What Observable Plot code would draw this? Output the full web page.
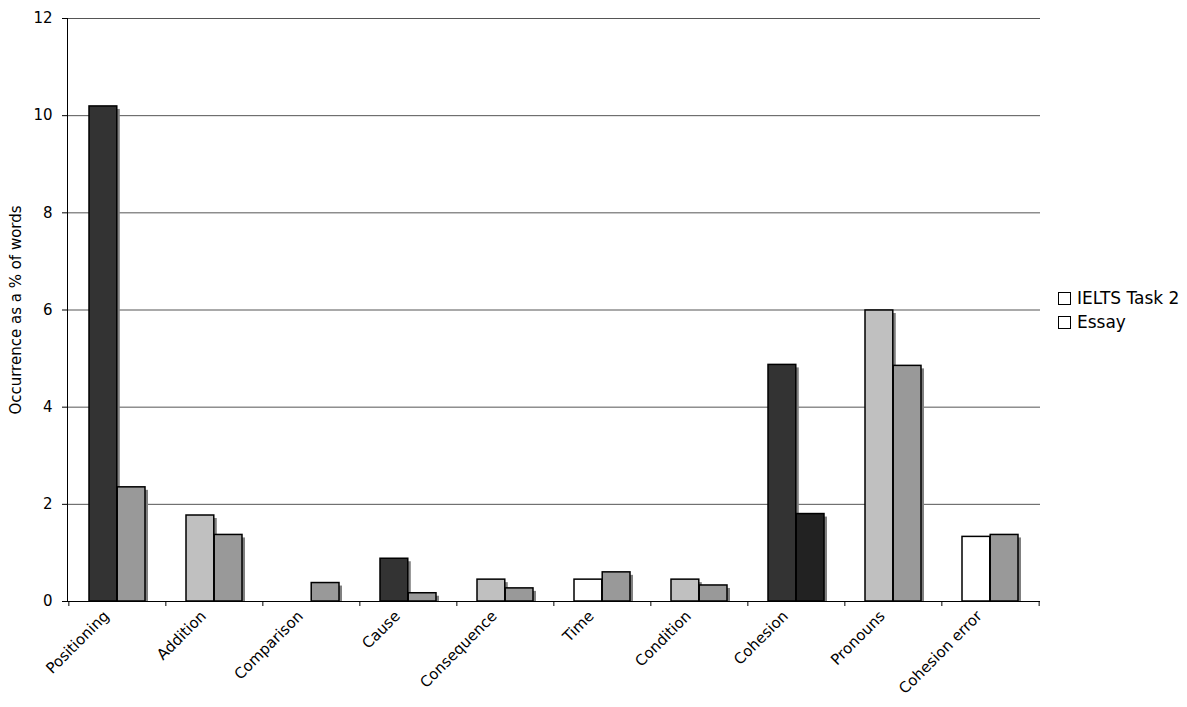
<!DOCTYPE html>
<html>
<head>
<meta charset="utf-8">
<script src="https://cdn.jsdelivr.net/npm/d3@7"></script>
<script src="https://cdn.jsdelivr.net/npm/@observablehq/plot@0.6"></script>
<style>
  html, body { margin: 0; padding: 0; background: #fff; }
  #wrap { position: relative; width: 1187px; height: 707px; font-family: "DejaVu Sans", Verdana, sans-serif; }
  #legend { position: absolute; left: 1058px; top: 286px; font-size: 17px; color: #000; }
  #legend .row { display: flex; align-items: center; height: 24px; white-space: nowrap; }
  #legend .sw { width: 11px; height: 11px; border: 1px solid #000; background: #fff; margin-right: 6px; box-sizing: content-box; }
</style>
</head>
<body>
<div id="wrap">
  <div id="chart"></div>
  <div id="legend"></div>
</div>
<script>
// ---- data ----
const categories = ["Positioning", "Addition", "Comparison", "Cause", "Consequence", "Time", "Condition", "Cohesion", "Pronouns", "Cohesion error"];
const ieltsTask2 = [10.19, 1.77, 0, 0.88, 0.45, 0.45, 0.45, 4.87, 5.99, 1.33];
const essay      = [2.35, 1.37, 0.38, 0.17, 0.27, 0.60, 0.33, 1.80, 4.85, 1.37];
const seriesNames = ["IELTS Task 2", "Essay"];
const yTicks = [0, 2, 4, 6, 8, 10, 12];
const yLabel = "Occurrence as a % of words";
// per-bar fills (styles kept apart from values)
const ieltsFill = ["#333333", "#c0c0c0", "#c0c0c0", "#333333", "#c0c0c0", "#ffffff", "#c0c0c0", "#333333", "#c0c0c0", "#ffffff"];
const essayFill = ["#999999", "#999999", "#999999", "#999999", "#999999", "#999999", "#999999", "#222222", "#999999", "#999999"];

// ---- layout ----
const W = 1187, H = 707;
const mL = 67, mR = 147, mT = 18, mB = 106;
const pInner = 0.42, pOuter = 0.21;
const step = (W - mL - mR) / (categories.length - pInner + 2 * pOuter);
const bw = step * (1 - pInner);
const half = bw / 2;

const rowsA = categories.map((c, i) => ({category: c, value: ieltsTask2[i], fill: ieltsFill[i]}));
const rowsB = categories.map((c, i) => ({category: c, value: essay[i], fill: essayFill[i]}));
const shadowA = rowsA.filter(d => d.value > 0);
const shadowB = rowsB.filter(d => d.value > 0);

const chart = Plot.plot({
  width: W, height: H,
  marginLeft: mL, marginRight: mR, marginTop: mT, marginBottom: mB,
  style: {fontFamily: "'DejaVu Sans', Verdana, sans-serif", fontSize: "15px", color: "#000", background: "#fff", overflow: "visible"},
  x: {type: "band", domain: categories, paddingInner: pInner, paddingOuter: pOuter, align: 0.5},
  y: {domain: [0, 12]},
  color: {type: "identity"},
  marks: [
    Plot.gridY(yTicks, {stroke: "#555", strokeOpacity: 1, strokeWidth: 1}),
    // shadows
    Plot.barY(shadowA, {x: "category", y: "value", fill: "#808080", dx: 3, insetTop: 3, insetRight: half}),
    Plot.barY(shadowB, {x: "category", y: "value", fill: "#808080", dx: 3, insetTop: 3, insetLeft: half}),
    // bars
    Plot.barY(rowsA.filter(d => d.value > 0), {x: "category", y: "value", fill: "fill", stroke: "#000", strokeWidth: 1.5, insetRight: half}),
    Plot.barY(rowsB.filter(d => d.value > 0), {x: "category", y: "value", fill: "fill", stroke: "#000", strokeWidth: 1.5, insetLeft: half}),
    // axes
    Plot.axisY(yTicks, {tickSize: 5, tickPadding: 10, label: null, fontSize: 15}),
    Plot.text([yLabel], {frameAnchor: "left", dx: -51, rotate: -90, fontSize: 15, textAnchor: "middle"}),
    Plot.axisX({tickSize: 5, tickFormat: () => "", label: null, dx: -step / 2}),
    Plot.axisX([categories[categories.length - 1]], {tickSize: 5, tickFormat: () => "", label: null, dx: step / 2}),
    Plot.axisX({tickSize: 0, tickPadding: 12, tickRotate: -45, label: null, fontSize: 15, dx: -11}),
    Plot.ruleY([0], {stroke: "#000"}),
    Plot.frame({anchor: "left", stroke: "#000"})
  ]
});
document.getElementById("chart").appendChild(chart);

const legend = document.getElementById("legend");
seriesNames.forEach(name => {
  const row = document.createElement("div");
  row.className = "row";
  const sw = document.createElement("span");
  sw.className = "sw";
  const t = document.createElement("span");
  t.textContent = name;
  row.appendChild(sw);
  row.appendChild(t);
  legend.appendChild(row);
});
</script>
</body>
</html>
